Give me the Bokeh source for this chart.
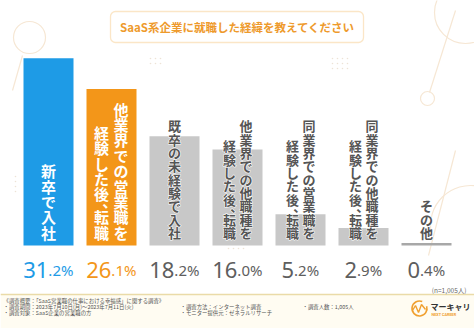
from bokeh.plotting import figure
from bokeh.models import Range1d, BoxAnnotation
from bokeh.core.properties import value
from bokeh.embed import file_html
from bokeh.resources import INLINE

# ---------------- data ----------------
categories = ["新卒で入社", "他業界での営業職を経験した後、転職", "既卒の未経験で入社",
              "他業界での他職種を経験した後、転職", "同業界での営業職を経験した後、転職",
              "同業界での他職種を経験した後、転職", "その他"]
label_columns = [["新卒で入社"],
                 ["他業界での営業職を", "経験した後、転職"],
                 ["既卒の未経験で入社"],
                 ["他業界での他職種を", "経験した後、転職"],
                 ["同業界での営業職を", "経験した後、転職"],
                 ["同業界での他職種を", "経験した後、転職"],
                 ["その他"]]
values = [31.2, 26.1, 18.2, 16.0, 5.2, 2.9, 0.4]
bar_colors = ["#1E9BE6", "#F39619", "#C8C8C8", "#C8C8C8", "#C8C8C8", "#C8C8C8", "#A8A8A8"]
pct_colors = ["#1E9BE6", "#F39619", "#5E5E5E", "#5E5E5E", "#5E5E5E", "#5E5E5E", "#5E5E5E"]
title_text = "SaaS系企業に就職した経緯を教えてください"
n_text = "(n=1,005人)"
footer_lines = [
    ("《調査概要：「SaaS営業職の仕事における幸福感」に関する調査》", 3, 300.5),
    ("・調査期間：2023年7月10日(月)～2023年7月11日(火)", 3, 306.5),
    ("・調査方法：インターネット調査", 180, 306.5),
    ("・調査人数：1,005人", 302, 306.5),
    ("・調査対象：SaaS企業の営業職の方", 3, 312.5),
    ("・モニター提供元：ゼネラルリサーチ", 180, 312.5),
]

# ---------------- layout helpers (pixel -> data) ----------------
W, H = 474, 328
X0, DX = 48.0, 63.0      # px of first bar centre, px per category
Y0, DY = 245.0, 6.0      # px of baseline, px per percent


def dx(px):
    return (px - X0) / DX


def dy(px):
    return (Y0 - px) / DY


JP = value("Noto Sans CJK JP")

p = figure(width=W, height=H, output_backend="svg", toolbar_location=None,
           x_range=Range1d(dx(0), dx(W)), y_range=Range1d(dy(H), dy(0)),
           x_axis_type=None, y_axis_type=None, min_border=0)
p.grid.visible = False
p.outline_line_color = None
p.background_fill_color = "white"
p.border_fill_color = "white"

# ---------------- footer area (underlay) ----------------
p.add_layout(BoxAnnotation(left=dx(0), right=dx(W), top=dy(294), bottom=dy(H),
                           fill_color="#FFFCF2", fill_alpha=1, line_alpha=0, level="underlay"))

# ---------------- faint background decoration ----------------
deco = "#F6E7D4"
p.scatter(x=[dx(29), dx(465), dx(427)], y=[dy(37), dy(12), dy(98)], size=[32, 62, 14],
          marker="circle", fill_alpha=0, line_color=deco, line_width=1.2)
p.line(x=[dx(455), dx(429)], y=[dy(10), dy(92)], line_color=deco, line_width=1.2)
p.line(x=[dx(22), dx(12)], y=[dy(55), dy(90)], line_color=deco, line_width=1.2)
p.line(x=[dx(455), dx(428)], y=[dy(150), dy(255)], line_color=deco, line_width=1.2)
p.arc(x=[dx(470)], y=[dy(225)], radius=40, radius_units="screen",
      start_angle=1.4, end_angle=3.3, line_color=deco, line_width=1.2)
dots_x, dots_y = [], []
for gx, gy, nx, ny in [(150, 58, 3, 2), (332, 58, 4, 3), (15, 176, 1, 4), (228, 248, 4, 1)]:
    for a in range(nx):
        for b in range(ny):
            dots_x.append(dx(gx + a * 5))
            dots_y.append(dy(gy + b * 5))
p.scatter(x=dots_x, y=dots_y, size=1.6, color="#EDE3D6", line_color=None)

p.line(x=[dx(0), dx(W)], y=[dy(294), dy(294)], line_color="#EADBA8", line_width=1.5)

# ---------------- title box ----------------
p.add_layout(BoxAnnotation(left=dx(110), right=dx(363), top=dy(11), bottom=dy(42),
                           fill_color="white", fill_alpha=1, line_color="#F2AC45",
                           line_width=1.3, border_radius=5, level="underlay"))
p.text(x=[dx(237)], y=[dy(26.5)], text=[title_text], text_font=JP, text_font_size="11.5px",
       text_font_style="bold", text_color="#EE9A2C", text_align="center", text_baseline="middle")

# ---------------- bars ----------------
idx = list(range(len(categories)))
p.vbar(x=idx, top=values, bottom=0, width=50 / DX, fill_color=bar_colors, line_color=None)

# ---------------- vertical in-bar labels ----------------
for i, cols in enumerate(label_columns):
    if i < 2:
        fs, pitch, col, bottom, style = 15.0, 15.4, "white", 239.5, "bold"
        offs = [0] if len(cols) == 1 else [9.5, -10.0]
        halo = False
    else:
        fs, pitch, col, bottom, style = 13.0, 13.3, "#555555", 238.5, "bold"
        offs = [0] if len(cols) == 1 else [8.5, -8.0]
        halo = True
    xs, ys, ts = [], [], []
    for c, s in enumerate(cols):
        cx = X0 + DX * i + offs[c]
        heights = [pitch * 0.5 if ch == "、" else pitch for ch in s]
        top = bottom - sum(heights)
        cur = top
        for ch, h in zip(s, heights):
            cy = cur + h / 2
            if ch == "、":
                xs.append(dx(cx + 0.55 * fs))
                ys.append(dy(cy - 0.3 * fs))
            else:
                xs.append(dx(cx))
                ys.append(dy(cy))
            ts.append(ch)
            cur += h
    if halo:
        p.text(x=xs, y=ys, text=ts, text_font=JP, text_font_size=f"{fs}px", text_font_style=style,
               text_color="white", text_outline_color="white", text_align="center",
               text_baseline="middle")
    p.text(x=xs, y=ys, text=ts, text_font=JP, text_font_size=f"{fs}px", text_font_style=style,
           text_color=col, text_align="center", text_baseline="middle")

# ---------------- percentage labels ----------------
FS_INT, FS_DEC = 22.0, 15.0
int_x, int_y, int_t, int_c = [], [], [], []
dec_x, dec_y, dec_t, dec_c = [], [], [], []
for i, v in enumerate(values):
    a, b = f"{v:.1f}".split(".")
    w_int = len(a) * 0.57 * FS_INT
    w_dec = (0.27 + 0.57 + 0.85) * FS_DEC
    split = X0 + DX * i - (w_int + w_dec) / 2 + w_int
    int_x.append(dx(split)); int_y.append(dy(269)); int_t.append(a); int_c.append(pct_colors[i])
    dec_x.append(dx(split)); dec_y.append(dy(269)); dec_t.append("." + b + "%"); dec_c.append(pct_colors[i])
p.text(x=int_x, y=int_y, text=int_t, text_font=value("Noto Sans"), text_font_size=f"{FS_INT}px",
       text_color=int_c, text_align="right", text_baseline="alphabetic")
p.text(x=dec_x, y=dec_y, text=dec_t, text_font=value("Noto Sans"), text_font_size=f"{FS_DEC}px",
       text_color=dec_c, text_align="left", text_baseline="alphabetic")

# ---------------- n= and footer ----------------
p.text(x=[dx(466)], y=[dy(289)], text=[n_text], text_font=JP, text_font_size="6.5px",
       text_color="#666666", text_align="right", text_baseline="middle")
p.text(x=[dx(fx) for _, fx, _ in footer_lines], y=[dy(fy) for _, _, fy in footer_lines],
       text=[t for t, _, _ in footer_lines], text_font=JP, text_font_size="5.4px",
       text_color="#555555", text_align="left", text_baseline="middle")

# ---------------- logo ----------------
orange = "#F0A030"
p.arc(x=[dx(419)], y=[dy(308)], radius=7.5, radius_units="screen", start_angle=1.2,
      end_angle=6.6, line_color=orange, line_width=1.6)
p.line(x=[dx(x) for x in [412, 415, 418, 421, 425]], y=[dy(y) for y in [310, 305, 312, 304, 309]],
       line_color=orange, line_width=1.4)
p.text(x=[dx(430)], y=[dy(306)], text=["マーキャリ"], text_font=JP, text_font_size="8px",
       text_font_style="bold", text_color="#333333", text_align="left", text_baseline="middle")
p.text(x=[dx(431)], y=[dy(314)], text=["NEXT CAREER"], text_font=value("Roboto"),
       text_font_size="3.8px", text_font_style="bold", text_color=orange, text_align="left",
       text_baseline="middle")

open("out.html", "w").write(file_html(p, INLINE))
